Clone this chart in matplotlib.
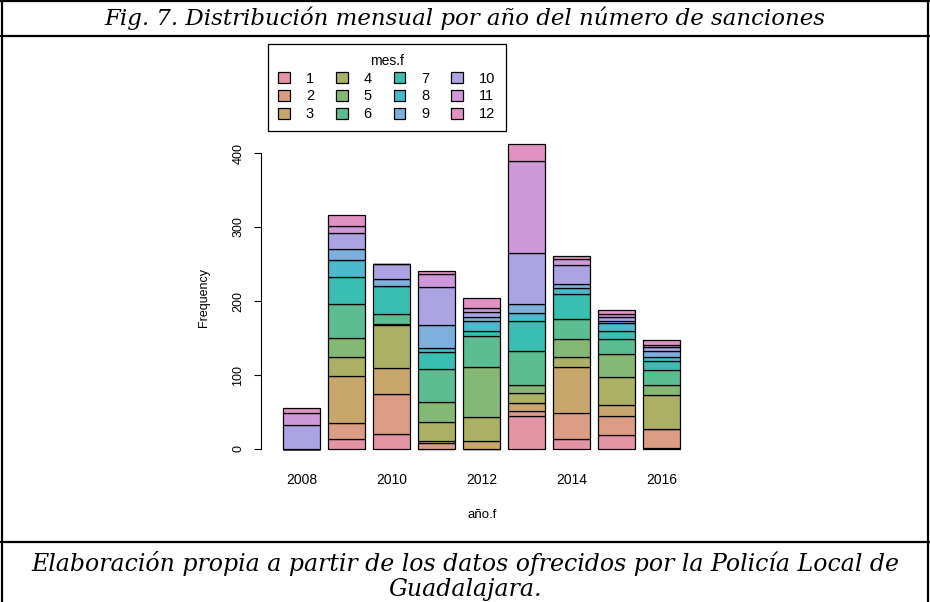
import numpy as np
import matplotlib.pyplot as plt
from matplotlib.patches import Patch
from matplotlib.lines import Line2D

years = ['2008', '2009', '2010', '2011', '2012', '2013', '2014', '2015', '2016']
months = ['1', '2', '3', '4', '5', '6', '7', '8', '9', '10', '11', '12']

# counts per month (1..12) for each year
counts_2008 = [0, 0, 0, 0, 0, 0, 0, 0, 0, 33, 16, 7]
counts_2009 = [13, 22, 64, 25, 26, 46, 37, 23, 14, 22, 9, 15]
counts_2010 = [20, 55, 35, 58, 1, 14, 37, 0, 10, 20, 0, 0]
counts_2011 = [0, 8, 3, 26, 26, 45, 23, 5, 31, 52, 17, 4]
counts_2012 = [0, 0, 11, 32, 68, 42, 6, 14, 6, 6, 6, 13]
counts_2013 = [45, 6, 11, 14, 11, 45, 41, 11, 12, 69, 124, 23]
counts_2014 = [13, 36, 62, 13, 24, 28, 33, 9, 5, 25, 9, 4]
counts_2015 = [19, 26, 15, 37, 31, 21, 11, 10, 3, 5, 5, 5]
counts_2016 = [1, 26, 0, 46, 13, 21, 12, 6, 8, 5, 3, 6]

# rainbow_hcl(12)
colors = ['#E495A5', '#DB9D85', '#C7A76C', '#ABB065', '#86B875', '#5CBD92',
          '#39BEB1', '#4CB9CC', '#7DB0DD', '#ACA4E2', '#CD99D8', '#E093C3']

title = "Fig. 7. Distribución mensual por año del número de sanciones"
caption = ("Elaboración propia a partir de los datos ofrecidos por la Policía Local de\n"
           "Guadalajara.")

table = np.array([counts_2008, counts_2009, counts_2010, counts_2011, counts_2012,
                  counts_2013, counts_2014, counts_2015, counts_2016])

W, H = 930, 602
fig = plt.figure(figsize=(W / 100, H / 100), dpi=100)
plt.rcParams['font.family'] = ['Liberation Sans', 'DejaVu Sans']

# plot region in pixels
left, right, top, bottom = 264, 700, 135, 460
ax = fig.add_axes([left / W, (H - bottom) / H, (right - left) / W, (bottom - top) / H])

x = np.arange(len(years))
base = np.zeros(len(years))
for m in range(len(months)):
    ax.bar(x, table[:, m], bottom=base, width=1 / 1.2, color=colors[m],
           edgecolor='black', linewidth=0.9)
    base += table[:, m]

ax.set_xlim((left - 301.5) / 45, (right - 301.5) / 45)
ax.set_ylim((449 - bottom) / 0.74, (449 - top) / 0.74)

for s in ['top', 'right', 'bottom']:
    ax.spines[s].set_visible(False)
ax.spines['left'].set_bounds(0, 400)
ax.spines['left'].set_position(('outward', 2))
ax.spines['left'].set_linewidth(0.8)

ax.set_yticks([0, 100, 200, 300, 400])
ax.tick_params(axis='y', length=5, width=0.8, pad=7, labelsize=9)
for lab in ax.get_yticklabels():
    lab.set_rotation(90)
    lab.set_va('center')

ax.set_xticks(x[::2])
ax.set_xticklabels(years[::2])
ax.tick_params(axis='x', length=0, pad=9, labelsize=10)

ax.set_xlabel('año.f', fontsize=9.5, labelpad=16)
ax.set_ylabel('Frequency', fontsize=9, labelpad=16)

handles = [Patch(facecolor=c, edgecolor='black', linewidth=0.9) for c in colors]
leg = ax.legend(handles, months, ncol=4, title='mes.f', fontsize=10.5, title_fontsize=10,
                loc='upper left', bbox_to_anchor=(268 / W, 1 - 44 / H),
                bbox_transform=fig.transFigure, borderaxespad=0,
                fancybox=False, edgecolor='black', framealpha=1,
                handlelength=0.8, handleheight=0.8, handletextpad=1.1,
                columnspacing=1.5, labelspacing=0.25, borderpad=0.7)
leg.get_frame().set_linewidth(0.9)

# frame lines
lw = 1.6
fig.add_artist(Line2D([0, 1], [1 - 1 / H, 1 - 1 / H], color='black', lw=lw))
fig.add_artist(Line2D([0, 1], [1 - 36 / H, 1 - 36 / H], color='black', lw=lw))
fig.add_artist(Line2D([0, 1], [1 - 542 / H, 1 - 542 / H], color='black', lw=lw))
fig.add_artist(Line2D([2 / W, 2 / W], [0, 1], color='black', lw=lw))
fig.add_artist(Line2D([928 / W, 928 / W], [0, 1], color='black', lw=lw))

fig.text(0.5, 1 - 18 / H, title, ha='center', va='center', fontsize=16.5,
         family='DejaVu Serif', style='italic')
fig.text(0.5, 1 - 576 / H, caption, ha='center', va='center', fontsize=17,
         family='DejaVu Serif', style='italic', linespacing=1.1)

fig.savefig('out.png', dpi=100)
